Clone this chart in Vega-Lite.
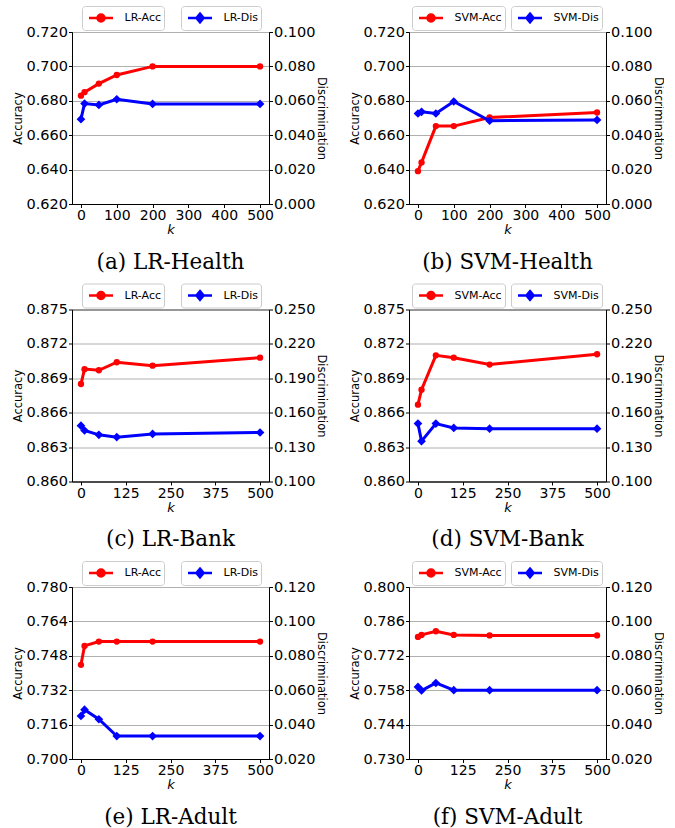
{
  "$schema": "https://vega.github.io/schema/vega-lite/v6.json",
  "background": "white",
  "padding": {"left": 12, "top": 5, "right": 0, "bottom": 0},
  "data": {"values": [
    {"panel": "a", "k": 0, "acc": 0.683, "dis": 0.0493},
    {"panel": "a", "k": 10, "acc": 0.685, "dis": 0.0584},
    {"panel": "a", "k": 50, "acc": 0.690, "dis": 0.0576},
    {"panel": "a", "k": 100, "acc": 0.695, "dis": 0.0609},
    {"panel": "a", "k": 200, "acc": 0.700, "dis": 0.0582},
    {"panel": "a", "k": 500, "acc": 0.700, "dis": 0.0582},
    {"panel": "b", "k": 0, "acc": 0.6391, "dis": 0.0526},
    {"panel": "b", "k": 10, "acc": 0.6442, "dis": 0.0536},
    {"panel": "b", "k": 50, "acc": 0.6653, "dis": 0.0526},
    {"panel": "b", "k": 100, "acc": 0.6653, "dis": 0.0596},
    {"panel": "b", "k": 200, "acc": 0.6703, "dis": 0.0484},
    {"panel": "b", "k": 500, "acc": 0.6732, "dis": 0.0489},
    {"panel": "c", "k": 0, "acc": 0.8685, "dis": 0.1487},
    {"panel": "c", "k": 10, "acc": 0.8698, "dis": 0.1445},
    {"panel": "c", "k": 50, "acc": 0.8697, "dis": 0.1407},
    {"panel": "c", "k": 100, "acc": 0.8704, "dis": 0.1387},
    {"panel": "c", "k": 200, "acc": 0.8701, "dis": 0.1415},
    {"panel": "c", "k": 500, "acc": 0.8708, "dis": 0.1427},
    {"panel": "d", "k": 0, "acc": 0.8667, "dis": 0.1505},
    {"panel": "d", "k": 10, "acc": 0.8680, "dis": 0.1352},
    {"panel": "d", "k": 50, "acc": 0.8710, "dis": 0.1505},
    {"panel": "d", "k": 100, "acc": 0.8708, "dis": 0.1467},
    {"panel": "d", "k": 200, "acc": 0.8702, "dis": 0.1461},
    {"panel": "d", "k": 500, "acc": 0.8711, "dis": 0.1461},
    {"panel": "e", "k": 0, "acc": 0.7438, "dis": 0.0450},
    {"panel": "e", "k": 10, "acc": 0.7526, "dis": 0.0487},
    {"panel": "e", "k": 50, "acc": 0.7546, "dis": 0.0431},
    {"panel": "e", "k": 100, "acc": 0.7546, "dis": 0.0333},
    {"panel": "e", "k": 200, "acc": 0.7546, "dis": 0.0333},
    {"panel": "e", "k": 500, "acc": 0.7546, "dis": 0.0333},
    {"panel": "f", "k": 0, "acc": 0.7797, "dis": 0.0619},
    {"panel": "f", "k": 10, "acc": 0.7805, "dis": 0.0598},
    {"panel": "f", "k": 50, "acc": 0.7820, "dis": 0.0642},
    {"panel": "f", "k": 100, "acc": 0.7805, "dis": 0.0600},
    {"panel": "f", "k": 200, "acc": 0.7803, "dis": 0.0600},
    {"panel": "f", "k": 500, "acc": 0.7803, "dis": 0.0600}
  ]},
  "spacing": 8.5,
  "vconcat": [
    {"spacing": 22, "hconcat": [
      {"width": 197, "height": 172,
       "transform": [{"filter": "datum.panel === 'a'"}],
       "title": {"text": "(a) LR-Health", "orient": "bottom", "anchor": "middle", "frame": "group", "font": "DejaVu Serif", "fontSize": 21.5, "fontWeight": "normal", "offset": 15, "color": "#000"},
       "encoding": {"x": {"field": "k", "type": "quantitative", "scale": {"domain": [-25, 525], "nice": false, "zero": false}, "axis": {"values": [0, 100, 200, 300, 400, 500], "title": "k"}}},
       "layer": [
         {"mark": {"type": "line", "strokeWidth": 3, "point": {"filled": true, "size": 40, "shape": "circle"}},
          "encoding": {
            "y": {"field": "acc", "type": "quantitative", "scale": {"domain": [0.62, 0.72], "nice": false, "zero": false}, "axis": {"values": [0.62, 0.64, 0.66, 0.68, 0.70, 0.72], "format": ".3f", "title": "Accuracy", "grid": true, "titlePadding": 2}},
            "color": {"datum": "LR-Acc", "type": "nominal", "scale": {"range": ["#ff0000"]}, "legend": {"title": null, "legendX": 10, "legendY": -26, "symbolType": "M-1.5,0L1.5,0M0.44,0A0.44,0.44,0,1,1,-0.44,0A0.44,0.44,0,1,1,0.44,0Z", "encode": {"symbols": {"update": {"fill": {"value": "#ff0000"}, "stroke": {"value": "#ff0000"}}}}}}
          }},
         {"mark": {"type": "line", "strokeWidth": 3, "point": {"filled": true, "size": 75, "shape": "diamond"}},
          "encoding": {
            "y": {"field": "dis", "type": "quantitative", "scale": {"domain": [0, 0.1], "nice": false, "zero": false}, "axis": {"orient": "right", "values": [0, 0.02, 0.04, 0.06, 0.08, 0.1], "format": ".3f", "title": "Discrimination", "grid": false, "titlePadding": 0}},
            "color": {"datum": "LR-Dis", "type": "nominal", "scale": {"range": ["#0000ff"]}, "legend": {"title": null, "legendX": 109, "legendY": -26, "symbolType": "M-1.5,0L1.5,0M0,-0.55L0.45,0L0,0.55L-0.45,0Z", "encode": {"symbols": {"update": {"fill": {"value": "#0000ff"}, "stroke": {"value": "#0000ff"}}}}}}
          }}
       ],
       "resolve": {"scale": {"y": "independent", "color": "independent"}}
      },
      {"width": 197, "height": 172,
       "transform": [{"filter": "datum.panel === 'b'"}],
       "title": {"text": "(b) SVM-Health", "orient": "bottom", "anchor": "middle", "frame": "group", "font": "DejaVu Serif", "fontSize": 21.5, "fontWeight": "normal", "offset": 15, "color": "#000"},
       "encoding": {"x": {"field": "k", "type": "quantitative", "scale": {"domain": [-25, 525], "nice": false, "zero": false}, "axis": {"values": [0, 100, 200, 300, 400, 500], "title": "k"}}},
       "layer": [
         {"mark": {"type": "line", "strokeWidth": 3, "point": {"filled": true, "size": 40, "shape": "circle"}},
          "encoding": {
            "y": {"field": "acc", "type": "quantitative", "scale": {"domain": [0.62, 0.72], "nice": false, "zero": false}, "axis": {"values": [0.62, 0.64, 0.66, 0.68, 0.70, 0.72], "format": ".3f", "title": "Accuracy", "grid": true, "titlePadding": 2}},
            "color": {"datum": "SVM-Acc", "type": "nominal", "scale": {"range": ["#ff0000"]}, "legend": {"title": null, "legendX": 3, "legendY": -26, "symbolType": "M-1.5,0L1.5,0M0.44,0A0.44,0.44,0,1,1,-0.44,0A0.44,0.44,0,1,1,0.44,0Z", "encode": {"symbols": {"update": {"fill": {"value": "#ff0000"}, "stroke": {"value": "#ff0000"}}}}}}
          }},
         {"mark": {"type": "line", "strokeWidth": 3, "point": {"filled": true, "size": 75, "shape": "diamond"}},
          "encoding": {
            "y": {"field": "dis", "type": "quantitative", "scale": {"domain": [0, 0.1], "nice": false, "zero": false}, "axis": {"orient": "right", "values": [0, 0.02, 0.04, 0.06, 0.08, 0.1], "format": ".3f", "title": "Discrimination", "grid": false, "titlePadding": 0}},
            "color": {"datum": "SVM-Dis", "type": "nominal", "scale": {"range": ["#0000ff"]}, "legend": {"title": null, "legendX": 102, "legendY": -26, "symbolType": "M-1.5,0L1.5,0M0,-0.55L0.45,0L0,0.55L-0.45,0Z", "encode": {"symbols": {"update": {"fill": {"value": "#0000ff"}, "stroke": {"value": "#0000ff"}}}}}}
          }}
       ],
       "resolve": {"scale": {"y": "independent", "color": "independent"}}
      }
    ]},
    {"spacing": 22, "hconcat": [
      {"width": 197, "height": 172,
       "transform": [{"filter": "datum.panel === 'c'"}],
       "title": {"text": "(c) LR-Bank", "orient": "bottom", "anchor": "middle", "frame": "group", "font": "DejaVu Serif", "fontSize": 21.5, "fontWeight": "normal", "offset": 15, "color": "#000"},
       "encoding": {"x": {"field": "k", "type": "quantitative", "scale": {"domain": [-25, 525], "nice": false, "zero": false}, "axis": {"values": [0, 125, 250, 375, 500], "title": "k"}}},
       "layer": [
         {"mark": {"type": "line", "strokeWidth": 3, "point": {"filled": true, "size": 40, "shape": "circle"}},
          "encoding": {
            "y": {"field": "acc", "type": "quantitative", "scale": {"domain": [0.86, 0.875], "nice": false, "zero": false}, "axis": {"values": [0.86, 0.863, 0.866, 0.869, 0.872, 0.875], "format": ".3f", "title": "Accuracy", "grid": true, "titlePadding": 2}},
            "color": {"datum": "LR-Acc", "type": "nominal", "scale": {"range": ["#ff0000"]}, "legend": {"title": null, "legendX": 10, "legendY": -26, "symbolType": "M-1.5,0L1.5,0M0.44,0A0.44,0.44,0,1,1,-0.44,0A0.44,0.44,0,1,1,0.44,0Z", "encode": {"symbols": {"update": {"fill": {"value": "#ff0000"}, "stroke": {"value": "#ff0000"}}}}}}
          }},
         {"mark": {"type": "line", "strokeWidth": 3, "point": {"filled": true, "size": 75, "shape": "diamond"}},
          "encoding": {
            "y": {"field": "dis", "type": "quantitative", "scale": {"domain": [0.1, 0.25], "nice": false, "zero": false}, "axis": {"orient": "right", "values": [0.1, 0.13, 0.16, 0.19, 0.22, 0.25], "format": ".3f", "title": "Discrimination", "grid": false, "titlePadding": 0}},
            "color": {"datum": "LR-Dis", "type": "nominal", "scale": {"range": ["#0000ff"]}, "legend": {"title": null, "legendX": 109, "legendY": -26, "symbolType": "M-1.5,0L1.5,0M0,-0.55L0.45,0L0,0.55L-0.45,0Z", "encode": {"symbols": {"update": {"fill": {"value": "#0000ff"}, "stroke": {"value": "#0000ff"}}}}}}
          }}
       ],
       "resolve": {"scale": {"y": "independent", "color": "independent"}}
      },
      {"width": 197, "height": 172,
       "transform": [{"filter": "datum.panel === 'd'"}],
       "title": {"text": "(d) SVM-Bank", "orient": "bottom", "anchor": "middle", "frame": "group", "font": "DejaVu Serif", "fontSize": 21.5, "fontWeight": "normal", "offset": 15, "color": "#000"},
       "encoding": {"x": {"field": "k", "type": "quantitative", "scale": {"domain": [-25, 525], "nice": false, "zero": false}, "axis": {"values": [0, 125, 250, 375, 500], "title": "k"}}},
       "layer": [
         {"mark": {"type": "line", "strokeWidth": 3, "point": {"filled": true, "size": 40, "shape": "circle"}},
          "encoding": {
            "y": {"field": "acc", "type": "quantitative", "scale": {"domain": [0.86, 0.875], "nice": false, "zero": false}, "axis": {"values": [0.86, 0.863, 0.866, 0.869, 0.872, 0.875], "format": ".3f", "title": "Accuracy", "grid": true, "titlePadding": 2}},
            "color": {"datum": "SVM-Acc", "type": "nominal", "scale": {"range": ["#ff0000"]}, "legend": {"title": null, "legendX": 3, "legendY": -26, "symbolType": "M-1.5,0L1.5,0M0.44,0A0.44,0.44,0,1,1,-0.44,0A0.44,0.44,0,1,1,0.44,0Z", "encode": {"symbols": {"update": {"fill": {"value": "#ff0000"}, "stroke": {"value": "#ff0000"}}}}}}
          }},
         {"mark": {"type": "line", "strokeWidth": 3, "point": {"filled": true, "size": 75, "shape": "diamond"}},
          "encoding": {
            "y": {"field": "dis", "type": "quantitative", "scale": {"domain": [0.1, 0.25], "nice": false, "zero": false}, "axis": {"orient": "right", "values": [0.1, 0.13, 0.16, 0.19, 0.22, 0.25], "format": ".3f", "title": "Discrimination", "grid": false, "titlePadding": 0}},
            "color": {"datum": "SVM-Dis", "type": "nominal", "scale": {"range": ["#0000ff"]}, "legend": {"title": null, "legendX": 102, "legendY": -26, "symbolType": "M-1.5,0L1.5,0M0,-0.55L0.45,0L0,0.55L-0.45,0Z", "encode": {"symbols": {"update": {"fill": {"value": "#0000ff"}, "stroke": {"value": "#0000ff"}}}}}}
          }}
       ],
       "resolve": {"scale": {"y": "independent", "color": "independent"}}
      }
    ]},
    {"spacing": 22, "hconcat": [
      {"width": 197, "height": 172,
       "transform": [{"filter": "datum.panel === 'e'"}],
       "title": {"text": "(e) LR-Adult", "orient": "bottom", "anchor": "middle", "frame": "group", "font": "DejaVu Serif", "fontSize": 21.5, "fontWeight": "normal", "offset": 15, "color": "#000"},
       "encoding": {"x": {"field": "k", "type": "quantitative", "scale": {"domain": [-25, 525], "nice": false, "zero": false}, "axis": {"values": [0, 125, 250, 375, 500], "title": "k"}}},
       "layer": [
         {"mark": {"type": "line", "strokeWidth": 3, "point": {"filled": true, "size": 40, "shape": "circle"}},
          "encoding": {
            "y": {"field": "acc", "type": "quantitative", "scale": {"domain": [0.7, 0.78], "nice": false, "zero": false}, "axis": {"values": [0.7, 0.716, 0.732, 0.748, 0.764, 0.78], "format": ".3f", "title": "Accuracy", "grid": true, "titlePadding": 2}},
            "color": {"datum": "LR-Acc", "type": "nominal", "scale": {"range": ["#ff0000"]}, "legend": {"title": null, "legendX": 10, "legendY": -26, "symbolType": "M-1.5,0L1.5,0M0.44,0A0.44,0.44,0,1,1,-0.44,0A0.44,0.44,0,1,1,0.44,0Z", "encode": {"symbols": {"update": {"fill": {"value": "#ff0000"}, "stroke": {"value": "#ff0000"}}}}}}
          }},
         {"mark": {"type": "line", "strokeWidth": 3, "point": {"filled": true, "size": 75, "shape": "diamond"}},
          "encoding": {
            "y": {"field": "dis", "type": "quantitative", "scale": {"domain": [0.02, 0.12], "nice": false, "zero": false}, "axis": {"orient": "right", "values": [0.02, 0.04, 0.06, 0.08, 0.1, 0.12], "format": ".3f", "title": "Discrimination", "grid": false, "titlePadding": 0}},
            "color": {"datum": "LR-Dis", "type": "nominal", "scale": {"range": ["#0000ff"]}, "legend": {"title": null, "legendX": 109, "legendY": -26, "symbolType": "M-1.5,0L1.5,0M0,-0.55L0.45,0L0,0.55L-0.45,0Z", "encode": {"symbols": {"update": {"fill": {"value": "#0000ff"}, "stroke": {"value": "#0000ff"}}}}}}
          }}
       ],
       "resolve": {"scale": {"y": "independent", "color": "independent"}}
      },
      {"width": 197, "height": 172,
       "transform": [{"filter": "datum.panel === 'f'"}],
       "title": {"text": "(f) SVM-Adult", "orient": "bottom", "anchor": "middle", "frame": "group", "font": "DejaVu Serif", "fontSize": 21.5, "fontWeight": "normal", "offset": 15, "color": "#000"},
       "encoding": {"x": {"field": "k", "type": "quantitative", "scale": {"domain": [-25, 525], "nice": false, "zero": false}, "axis": {"values": [0, 125, 250, 375, 500], "title": "k"}}},
       "layer": [
         {"mark": {"type": "line", "strokeWidth": 3, "point": {"filled": true, "size": 40, "shape": "circle"}},
          "encoding": {
            "y": {"field": "acc", "type": "quantitative", "scale": {"domain": [0.73, 0.8], "nice": false, "zero": false}, "axis": {"values": [0.73, 0.744, 0.758, 0.772, 0.786, 0.8], "format": ".3f", "title": "Accuracy", "grid": true, "titlePadding": 2}},
            "color": {"datum": "SVM-Acc", "type": "nominal", "scale": {"range": ["#ff0000"]}, "legend": {"title": null, "legendX": 3, "legendY": -26, "symbolType": "M-1.5,0L1.5,0M0.44,0A0.44,0.44,0,1,1,-0.44,0A0.44,0.44,0,1,1,0.44,0Z", "encode": {"symbols": {"update": {"fill": {"value": "#ff0000"}, "stroke": {"value": "#ff0000"}}}}}}
          }},
         {"mark": {"type": "line", "strokeWidth": 3, "point": {"filled": true, "size": 75, "shape": "diamond"}},
          "encoding": {
            "y": {"field": "dis", "type": "quantitative", "scale": {"domain": [0.02, 0.12], "nice": false, "zero": false}, "axis": {"orient": "right", "values": [0.02, 0.04, 0.06, 0.08, 0.1, 0.12], "format": ".3f", "title": "Discrimination", "grid": false, "titlePadding": 0}},
            "color": {"datum": "SVM-Dis", "type": "nominal", "scale": {"range": ["#0000ff"]}, "legend": {"title": null, "legendX": 102, "legendY": -26, "symbolType": "M-1.5,0L1.5,0M0,-0.55L0.45,0L0,0.55L-0.45,0Z", "encode": {"symbols": {"update": {"fill": {"value": "#0000ff"}, "stroke": {"value": "#0000ff"}}}}}}
          }}
       ],
       "resolve": {"scale": {"y": "independent", "color": "independent"}}
      }
    ]}
  ],
  "config": {
    "view": {"stroke": "#000000", "strokeWidth": 1},
    "axis": {"labelFont": "DejaVu Sans", "labelFontSize": 14.5, "labelColor": "#000000", "tickColor": "#000000", "domainColor": "#000000", "tickSize": 3.5, "labelPadding": 1, "titleFont": "DejaVu Sans", "titleFontSize": 11.5, "titleFontWeight": "normal", "titleColor": "#000000", "gridColor": "#b0b0b0", "gridWidth": 1, "labelOverlap": false, "labelFlush": false, "domainWidth": 1, "tickWidth": 1},
    "axisX": {"grid": false, "titleFontStyle": "italic", "titleFontSize": 13, "titlePadding": 1, "labelFontSize": 14},
    "legend": {"orient": "none", "strokeColor": "#cccccc", "fillColor": "#ffffff", "padding": 2.5, "cornerRadius": 3, "labelFont": "DejaVu Sans", "labelFontSize": 11, "labelColor": "#000000", "symbolSize": 256, "symbolStrokeWidth": 2.5, "labelOffset": 14, "symbolOffset": 7}
  }
}
